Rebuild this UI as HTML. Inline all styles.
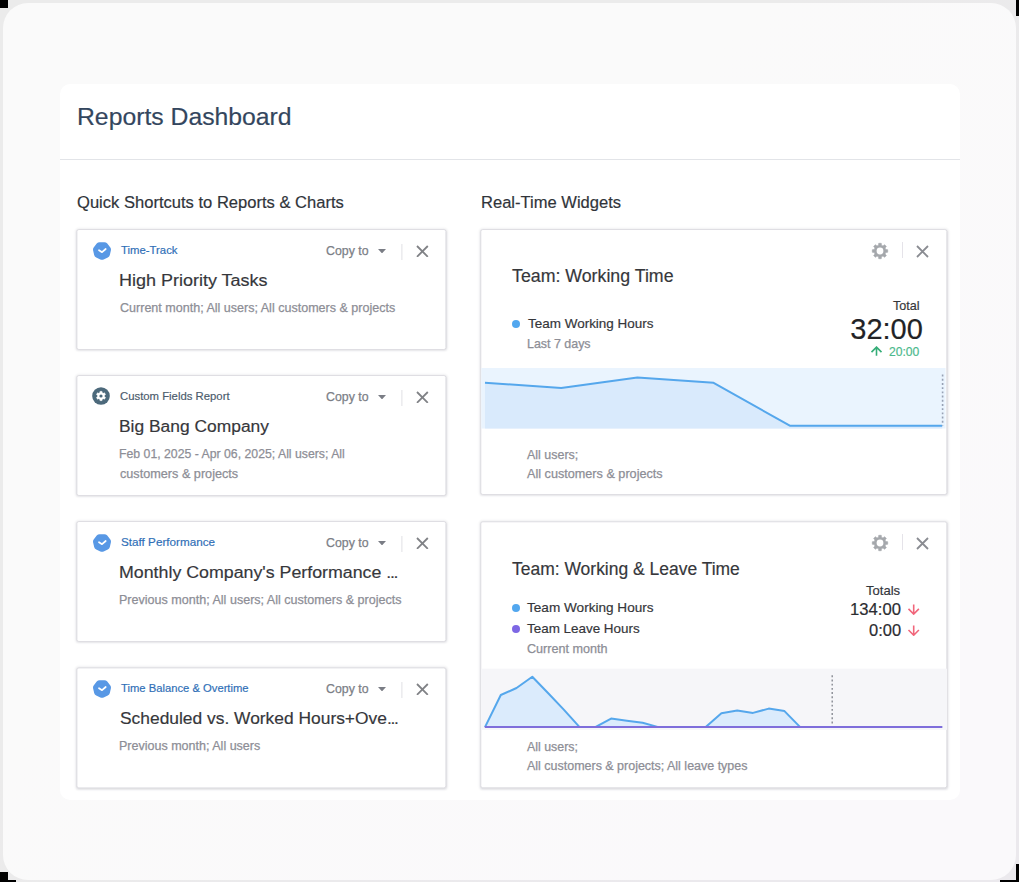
<!DOCTYPE html>
<html lang="en"><head><meta charset="utf-8"><title>Reports Dashboard</title>
<style>
html,body{margin:0;padding:0}
body{width:1019px;height:882px;position:relative;overflow:hidden;background:linear-gradient(135deg,#ebebeb 40%,#ebe9ed 85%);font-family:"Liberation Sans",sans-serif}
.abs{position:absolute;display:block}
.t{position:absolute;white-space:nowrap;line-height:1;transform-origin:0 0;-webkit-text-stroke:.18px}
.e{letter-spacing:-1.3px}
.g{-webkit-text-stroke:.25px}
.k{position:absolute;background:#000}
.panel{position:absolute;left:3px;top:3px;width:1013px;height:877px;border-radius:25px;background:linear-gradient(135deg,#fafafa 40%,#faf9fb 85%)}
.sheet{position:absolute;left:60px;top:84px;width:900px;height:716px;border-radius:10px;background:#fff}
.rule{position:absolute;left:60px;top:159px;width:900px;height:1px;background:#e2e4e8}
.card{position:absolute;box-sizing:border-box;background:#fff;border:1px solid #dfdee3;border-radius:2.5px;box-shadow:0 0 3px rgba(40,40,60,.13),0 1px 2px rgba(40,40,60,.06)}
</style></head><body>
<div class="panel"></div>
<div class="k" style="left:0;top:0;width:8px;height:8px"></div>
<div class="k" style="left:1016px;top:0;width:3px;height:16px"></div>
<div class="k" style="left:0;top:872px;width:8px;height:10px"></div>
<div class="k" style="left:8px;top:880px;width:8px;height:2px"></div>
<div class="k" style="left:1016px;top:864px;width:3px;height:18px"></div>
<div class="k" style="left:1000px;top:880px;width:19px;height:2px"></div>
<div class="sheet"></div>
<div class="rule"></div>
<div class="card" style="left:76px;top:229px;width:370px;height:121px;transform:translate(.4px,0px)"></div>
<svg class="abs" style="left:92.5px;top:241.6px" width="18" height="18" viewBox="0 0 18 18"><path d="M9.00 14.05 L4.86 12.05 L3.83 7.57 L6.70 3.97 L11.30 3.97 L14.17 7.57 L13.14 12.05Z" fill="#5898e5" stroke="#5898e5" stroke-width="7.6" stroke-linejoin="round"/><path d="M6.0 8.2 L9.05 10.2 L12.7 7.0" fill="none" stroke="#fff" stroke-width="1.7" stroke-linecap="round" stroke-linejoin="round"/></svg>
<svg class="abs" style="left:377.8px;top:248.7px" width="8" height="4.4" viewBox="0 0 8 4.4"><path d="M0 0H8L4 4.4Z" fill="#7a7d85"/></svg>
<div class="abs" style="left:400.5px;top:244.3px;width:1px;height:15.4px;background:#e0e0e4;transform:translateX(.4px)"></div>
<svg class="abs" style="left:416.1px;top:244.5px" width="12.8" height="12.8" viewBox="-6.4 -6.4 12.8 12.8"><path d="M-5.4 -5.4L5.4 5.4M5.4 -5.4L-5.4 5.4" stroke="#808286" stroke-width="1.8" fill="none"/></svg>
<div class="card" style="left:76px;top:375px;width:370px;height:121px;transform:translate(.4px,0px)"></div>
<svg class="abs" style="left:92.3px;top:387.3px" width="18" height="18" viewBox="0 0 18 18"><circle cx="9" cy="9" r="8.8" fill="#4c697b"/><path d="M7.88 5.68 L7.97 4.41 L10.03 4.41 L10.12 5.68 L11.31 6.37 L12.46 5.82 L13.48 7.59 L12.43 8.31 L12.43 9.69 L13.48 10.41 L12.46 12.18 L11.31 11.63 L10.12 12.32 L10.03 13.59 L7.97 13.59 L7.88 12.32 L6.69 11.63 L5.54 12.18 L4.52 10.41 L5.57 9.69 L5.57 8.31 L4.52 7.59 L5.54 5.82 L6.69 6.37Z" fill="#fff" stroke="#fff" stroke-width="0.6" stroke-linejoin="round"/><circle cx="9" cy="9" r="1.6" fill="#4c697b"/></svg>
<svg class="abs" style="left:377.8px;top:394.7px" width="8" height="4.4" viewBox="0 0 8 4.4"><path d="M0 0H8L4 4.4Z" fill="#7a7d85"/></svg>
<div class="abs" style="left:400.5px;top:390.3px;width:1px;height:15.4px;background:#e0e0e4;transform:translateX(.4px)"></div>
<svg class="abs" style="left:416.1px;top:390.5px" width="12.8" height="12.8" viewBox="-6.4 -6.4 12.8 12.8"><path d="M-5.4 -5.4L5.4 5.4M5.4 -5.4L-5.4 5.4" stroke="#808286" stroke-width="1.8" fill="none"/></svg>
<div class="card" style="left:76px;top:521px;width:370px;height:121px;transform:translate(.4px,0px)"></div>
<svg class="abs" style="left:92.5px;top:533.6px" width="18" height="18" viewBox="0 0 18 18"><path d="M9.00 14.05 L4.86 12.05 L3.83 7.57 L6.70 3.97 L11.30 3.97 L14.17 7.57 L13.14 12.05Z" fill="#5898e5" stroke="#5898e5" stroke-width="7.6" stroke-linejoin="round"/><path d="M6.0 8.2 L9.05 10.2 L12.7 7.0" fill="none" stroke="#fff" stroke-width="1.7" stroke-linecap="round" stroke-linejoin="round"/></svg>
<svg class="abs" style="left:377.8px;top:540.7px" width="8" height="4.4" viewBox="0 0 8 4.4"><path d="M0 0H8L4 4.4Z" fill="#7a7d85"/></svg>
<div class="abs" style="left:400.5px;top:536.3px;width:1px;height:15.4px;background:#e0e0e4;transform:translateX(.4px)"></div>
<svg class="abs" style="left:416.1px;top:536.5px" width="12.8" height="12.8" viewBox="-6.4 -6.4 12.8 12.8"><path d="M-5.4 -5.4L5.4 5.4M5.4 -5.4L-5.4 5.4" stroke="#808286" stroke-width="1.8" fill="none"/></svg>
<div class="card" style="left:76px;top:667px;width:370px;height:121px;transform:translate(.4px,0.4px)"></div>
<svg class="abs" style="left:92.5px;top:679.6px" width="18" height="18" viewBox="0 0 18 18"><path d="M9.00 14.05 L4.86 12.05 L3.83 7.57 L6.70 3.97 L11.30 3.97 L14.17 7.57 L13.14 12.05Z" fill="#5898e5" stroke="#5898e5" stroke-width="7.6" stroke-linejoin="round"/><path d="M6.0 8.2 L9.05 10.2 L12.7 7.0" fill="none" stroke="#fff" stroke-width="1.7" stroke-linecap="round" stroke-linejoin="round"/></svg>
<svg class="abs" style="left:377.8px;top:686.7px" width="8" height="4.4" viewBox="0 0 8 4.4"><path d="M0 0H8L4 4.4Z" fill="#7a7d85"/></svg>
<div class="abs" style="left:400.5px;top:682.3px;width:1px;height:15.4px;background:#e0e0e4;transform:translateX(.4px)"></div>
<svg class="abs" style="left:416.1px;top:682.5px" width="12.8" height="12.8" viewBox="-6.4 -6.4 12.8 12.8"><path d="M-5.4 -5.4L5.4 5.4M5.4 -5.4L-5.4 5.4" stroke="#808286" stroke-width="1.8" fill="none"/></svg>
<div class="card" style="left:480px;top:229px;width:467px;height:266px;transform:translate(.3px,0px)"></div>
<svg class="abs" style="left:870.6px;top:242.1px" width="18" height="18" viewBox="0 0 18 18"><path d="M7.58 3.27 L7.72 1.31 L10.28 1.31 L10.42 3.27 L12.04 3.95 L13.54 2.65 L15.35 4.46 L14.05 5.96 L14.73 7.58 L16.69 7.72 L16.69 10.28 L14.73 10.42 L14.05 12.04 L15.35 13.54 L13.54 15.35 L12.04 14.05 L10.42 14.73 L10.28 16.69 L7.72 16.69 L7.58 14.73 L5.96 14.05 L4.46 15.35 L2.65 13.54 L3.95 12.04 L3.27 10.42 L1.31 10.28 L1.31 7.72 L3.27 7.58 L3.95 5.96 L2.65 4.46 L4.46 2.65 L5.96 3.95Z" fill="#a5a8ac" stroke="#a5a8ac" stroke-width="0.6" stroke-linejoin="round"/><circle cx="9" cy="9" r="3.4" fill="#fff"/></svg>
<div class="abs" style="left:901.9px;top:241.8px;width:1px;height:16px;background:#e5e3e9"></div>
<svg class="abs" style="left:915.9px;top:244.6px" width="13.0" height="13.0" viewBox="-6.5 -6.5 13.0 13.0"><path d="M-5.5 -5.5L5.5 5.5M5.5 -5.5L-5.5 5.5" stroke="#8a8c92" stroke-width="1.8" fill="none"/></svg>
<div class="abs" style="left:511.9px;top:319.9px;width:8.6px;height:8.6px;border-radius:50%;background:#52a7ef"></div>
<svg class="abs" style="left:870.3px;top:346.1px" width="13.0" height="10.3" viewBox="-6.5 -0.5 13.0 10.299999999999955"><path d="M0 9.299999999999955 L0 0.6 M-5.0 5.6 L0 0.6 L5.0 5.6" stroke="#35ad78" stroke-width="1.6" fill="none" stroke-linejoin="miter"/></svg>
<svg class="abs" style="left:481px;top:368px" width="466" height="61" viewBox="0 0 466 61">
<rect x="0.3" y="0" width="464.2" height="60.5" fill="#eaf4fe"/>
<polygon points="4.0,60.5 4.0,14.8 80.2,20.0 156.4,9.4 232.6,14.8 308.8,57.7 385.0,57.7 461.2,57.7 461.2,60.5" fill="#d9eafc"/>
<polyline points="4.0,14.8 80.2,20.0 156.4,9.4 232.6,14.8 308.8,57.7 385.0,57.7 461.2,57.7" fill="none" stroke="#55a7ec" stroke-width="2" stroke-linejoin="round"/>
<line x1="461.6" y1="6.6" x2="461.6" y2="57.5" stroke="#97a1b4" stroke-width="1.6" stroke-dasharray="1.9 2.3"/>
</svg>
<div class="card" style="left:480px;top:521px;width:467px;height:267px;transform:translate(.3px,0.3px)"></div>
<svg class="abs" style="left:870.6px;top:534.1px" width="18" height="18" viewBox="0 0 18 18"><path d="M7.58 3.27 L7.72 1.31 L10.28 1.31 L10.42 3.27 L12.04 3.95 L13.54 2.65 L15.35 4.46 L14.05 5.96 L14.73 7.58 L16.69 7.72 L16.69 10.28 L14.73 10.42 L14.05 12.04 L15.35 13.54 L13.54 15.35 L12.04 14.05 L10.42 14.73 L10.28 16.69 L7.72 16.69 L7.58 14.73 L5.96 14.05 L4.46 15.35 L2.65 13.54 L3.95 12.04 L3.27 10.42 L1.31 10.28 L1.31 7.72 L3.27 7.58 L3.95 5.96 L2.65 4.46 L4.46 2.65 L5.96 3.95Z" fill="#a5a8ac" stroke="#a5a8ac" stroke-width="0.6" stroke-linejoin="round"/><circle cx="9" cy="9" r="3.4" fill="#fff"/></svg>
<div class="abs" style="left:901.9px;top:533.8px;width:1px;height:16px;background:#e5e3e9"></div>
<svg class="abs" style="left:915.9px;top:536.6px" width="13.0" height="13.0" viewBox="-6.5 -6.5 13.0 13.0"><path d="M-5.5 -5.5L5.5 5.5M5.5 -5.5L-5.5 5.5" stroke="#8a8c92" stroke-width="1.8" fill="none"/></svg>
<div class="abs" style="left:511.9px;top:603.6px;width:8.6px;height:8.6px;border-radius:50%;background:#52a7ef"></div>
<div class="abs" style="left:511.9px;top:624.9px;width:8.6px;height:8.6px;border-radius:50%;background:#7d67e4"></div>
<svg class="abs" style="left:907.0px;top:603.8px" width="13.4" height="11.2" viewBox="-6.7 -0.5 13.4 11.200000000000045"><path d="M0 0 L0 9.600000000000046 M-5.2 4.400000000000046 L0 9.600000000000046 L5.2 4.400000000000046" stroke="#f1667b" stroke-width="1.6" fill="none" stroke-linejoin="miter"/></svg>
<svg class="abs" style="left:907.0px;top:624.7px" width="13.4" height="11.3" viewBox="-6.7 -0.5 13.4 11.299999999999955"><path d="M0 0 L0 9.699999999999955 M-5.2 4.499999999999955 L0 9.699999999999955 L5.2 4.499999999999955" stroke="#f1667b" stroke-width="1.6" fill="none" stroke-linejoin="miter"/></svg>
<svg class="abs" style="left:481px;top:668px" width="466" height="63" viewBox="0 0 466 63">
<rect x="0" y="0.7" width="466" height="61.1" fill="#f6f6f9"/>
<polygon points="4.0,59.1 19.8,27.0 35.5,20.0 51.3,8.7 67.0,25.0 82.8,41.6 98.6,59.1 114.3,59.1 130.1,50.6 145.9,52.7 161.6,54.8 177.4,59.1 193.1,59.1 208.9,59.1 224.7,59.1 240.4,45.2 256.2,42.6 272.0,44.9 287.7,40.6 303.5,43.1 319.2,59.1 335.0,59.1 350.8,59.1 366.5,59.1 382.3,59.1 398.1,59.1 413.8,59.1 429.6,59.1 445.3,59.1 461.1,59.1" fill="#dbebfc"/>
<polyline points="4.0,59.1 19.8,27.0 35.5,20.0 51.3,8.7 67.0,25.0 82.8,41.6 98.6,59.1 114.3,59.1 130.1,50.6 145.9,52.7 161.6,54.8 177.4,59.1 193.1,59.1 208.9,59.1 224.7,59.1 240.4,45.2 256.2,42.6 272.0,44.9 287.7,40.6 303.5,43.1 319.2,59.1 335.0,59.1 350.8,59.1 366.5,59.1 382.3,59.1 398.1,59.1 413.8,59.1 429.6,59.1 445.3,59.1 461.1,59.1" fill="none" stroke="#55a7ec" stroke-width="2" stroke-linejoin="round"/>
<line x1="351.2" y1="7.3" x2="351.2" y2="56.5" stroke="#878a92" stroke-width="1.4" stroke-dasharray="1.9 2.3"/>
<line x1="3.8" y1="59.1" x2="461.3" y2="59.1" stroke="#7f6edb" stroke-width="2"/>
</svg>
<div class="t" id="title" style="left:76.94px;top:105.35px;font-size:24.4px;color:#33465e;transform:scaleX(1.0145)">Reports Dashboard</div>
<div class="t" id="sec1" style="left:77.11px;top:194.99px;font-size:16.9px;color:#30343a;transform:scaleX(0.9804)">Quick Shortcuts to Reports &amp; Charts</div>
<div class="t" id="sec2" style="left:481.31px;top:194.99px;font-size:16.9px;color:#30343a;transform:scaleX(0.9798)">Real-Time Widgets</div>
<div class="t" id="c0lab" style="left:121.19px;top:245.11px;font-size:11.8px;color:#2f6fb7;transform:scaleX(0.9620)">Time-Track</div>
<div class="t g" id="c0copy" style="left:326.20px;top:245.12px;font-size:12.5px;color:#7b7e86;transform:scaleX(0.9886)">Copy to</div>
<div class="t" id="c0tit" style="left:118.98px;top:271.66px;font-size:17.3px;color:#36373b;transform:scaleX(1.0408)">High Priority Tasks</div>
<div class="t g" id="c0d0" style="left:119.83px;top:302.02px;font-size:12.5px;color:#8d8e96;transform:scaleX(1.0030)">Current month; All users; All customers &amp; projects</div>
<div class="t" id="c1lab" style="left:120.23px;top:391.11px;font-size:11.8px;color:#4b5b6c;transform:scaleX(0.9604)">Custom Fields Report</div>
<div class="t g" id="c1copy" style="left:326.20px;top:391.12px;font-size:12.5px;color:#7b7e86;transform:scaleX(0.9886)">Copy to</div>
<div class="t" id="c1tit" style="left:118.68px;top:417.66px;font-size:17.3px;color:#36373b;transform:scaleX(1.0073)">Big Bang Company</div>
<div class="t g" id="c1d0" style="left:119.31px;top:448.02px;font-size:12.5px;color:#8d8e96;transform:scaleX(0.9816)">Feb 01, 2025 - Apr 06, 2025; All users; All</div>
<div class="t g" id="c1d1" style="left:119.72px;top:467.62px;font-size:12.5px;color:#8d8e96;transform:scaleX(1.0124)">customers &amp; projects</div>
<div class="t" id="c2lab" style="left:120.63px;top:537.11px;font-size:11.8px;color:#2f6fb7;transform:scaleX(0.9921)">Staff Performance</div>
<div class="t g" id="c2copy" style="left:326.20px;top:537.12px;font-size:12.5px;color:#7b7e86;transform:scaleX(0.9886)">Copy to</div>
<div class="t" id="c2tit" style="left:119.49px;top:563.66px;font-size:17.3px;color:#36373b;transform:scaleX(1.0291)">Monthly Company's Performance <span class="e">...</span></div>
<div class="t g" id="c2d0" style="left:119.20px;top:594.02px;font-size:12.5px;color:#8d8e96;transform:scaleX(1.0039)">Previous month; All users; All customers &amp; projects</div>
<div class="t" id="c3lab" style="left:120.92px;top:683.11px;font-size:11.8px;color:#2f6fb7;transform:scaleX(0.9525)">Time Balance &amp; Overtime</div>
<div class="t g" id="c3copy" style="left:326.20px;top:683.12px;font-size:12.5px;color:#7b7e86;transform:scaleX(0.9886)">Copy to</div>
<div class="t" id="c3tit" style="left:119.98px;top:709.66px;font-size:17.3px;color:#36373b;transform:scaleX(1.0062)">Scheduled vs. Worked Hours+Ove<span class="e">...</span></div>
<div class="t g" id="c3d0" style="left:119.21px;top:740.02px;font-size:12.5px;color:#8d8e96;transform:scaleX(1.0016)">Previous month; All users</div>
<div class="t" id="w1tit" style="left:511.82px;top:268.39px;font-size:17.5px;color:#36373b;transform:scaleX(1.0147)">Team: Working Time</div>
<div class="t" id="w1leg" style="left:527.82px;top:317.06px;font-size:13.4px;color:#35363a;transform:scaleX(1.0060)">Team Working Hours</div>
<div class="t g" id="w1sub" style="left:527.15px;top:337.97px;font-size:12.2px;color:#8d8e96;transform:scaleX(1.0201)">Last 7 days</div>
<div class="t" id="w1tot" style="left:893.30px;top:300.18px;font-size:12.9px;color:#35363a;transform:scaleX(0.9775)">Total</div>
<div class="t" id="w1big" style="left:850.29px;top:315.25px;font-size:29.0px;color:#222326">32:00</div>
<div class="t" id="w1chg" style="left:888.50px;top:346.28px;font-size:12.9px;color:#4bb98c;transform:scaleX(0.9413)">20:00</div>
<div class="t g" id="w1f0" style="left:526.84px;top:449.29px;font-size:12.3px;color:#8d8e96;transform:scaleX(1.0128)">All users;</div>
<div class="t g" id="w1f1" style="left:526.93px;top:468.19px;font-size:12.3px;color:#8d8e96;transform:scaleX(1.0284)">All customers &amp; projects</div>
<div class="t" id="w2tit" style="left:511.81px;top:561.29px;font-size:17.5px;color:#36373b;transform:scaleX(0.9982)">Team: Working &amp; Leave Time</div>
<div class="t" id="w2leg0" style="left:526.99px;top:600.76px;font-size:13.4px;color:#35363a;transform:scaleX(1.0146)">Team Working Hours</div>
<div class="t" id="w2leg1" style="left:527.10px;top:621.66px;font-size:13.4px;color:#35363a;transform:scaleX(1.0026)">Team Leave Hours</div>
<div class="t g" id="w2sub" style="left:527.27px;top:642.97px;font-size:12.2px;color:#8d8e96;transform:scaleX(1.0341)">Current month</div>
<div class="t" id="w2tot" style="left:866.30px;top:583.50px;font-size:13.0px;color:#34363c;transform:scaleX(1.0027)">Totals</div>
<div class="t" id="w2v0" style="left:849.88px;top:601.93px;font-size:15.8px;color:#2b2c31;transform:scaleX(1.0539)">134:00</div>
<div class="t" id="w2v1" style="left:868.51px;top:622.73px;font-size:15.8px;color:#2b2c31;transform:scaleX(1.0434)">0:00</div>
<div class="t g" id="w2f0" style="left:526.82px;top:741.19px;font-size:12.3px;color:#8d8e96;transform:scaleX(1.0061)">All users;</div>
<div class="t g" id="w2f1" style="left:527.46px;top:760.19px;font-size:12.3px;color:#8d8e96;transform:scaleX(1.0144)">All customers &amp; projects; All leave types</div>
</body></html>
